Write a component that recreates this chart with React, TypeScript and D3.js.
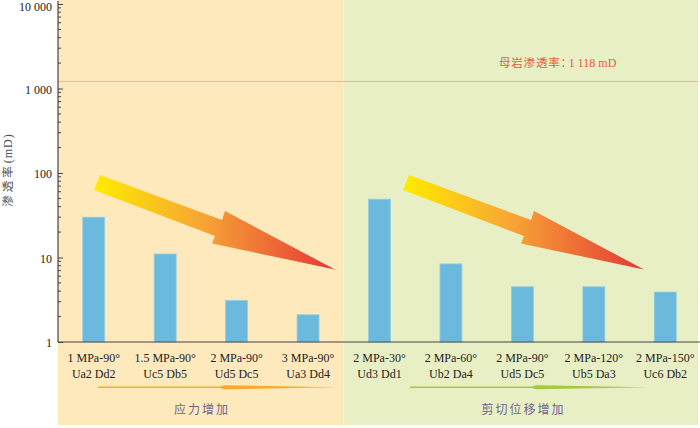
import React, { useEffect, useRef } from 'react';
import * as d3 from 'd3';

// chart data
const stressLabels = ['1 MPa-90°', '1.5 MPa-90°', '2 MPa-90°', '3 MPa-90°', '2 MPa-30°', '2 MPa-60°', '2 MPa-90°', '2 MPa-120°', '2 MPa-150°'];
const sampleLabels = ['Ua2 Dd2', 'Uc5 Db5', 'Ud5 Dc5', 'Ua3 Dd4', 'Ud3 Dd1', 'Ub2 Da4', 'Ud5 Dc5', 'Ub5 Da3', 'Uc6 Db2'];
const permeability = [30, 11, 3.1, 2.1, 49, 8.4, 4.5, 4.5, 3.9];
const groupNames = ['应力增加', '剪切位移增加'];
const groupSizes = [4, 5];
const yTicks = [1, 10, 100, 1000, 10000];
const matrixPermeability = 1118;

const App = () => {
  const ref = useRef<SVGSVGElement>(null);

  useEffect(() => {
    const svg = d3.select(ref.current);
    svg.selectAll('*').remove();

    const height = 428;
    const margin = { top: 4, right: 0, bottom: 86, left: 58 };
    const serif = '"Liberation Serif", "Times New Roman", serif';
    const cjk = '"Noto Sans CJK SC", sans-serif';

    const idx = permeability.map((_, i) => i);
    const x = d3.scaleBand<number>()
      .domain(idx)
      .range([margin.left, 701])
      .padding(0);

    const y = d3.scaleLog()
      .domain([1, 10000])
      .range([height - margin.bottom, margin.top]);

    const y0 = y(1);

    // background panels
    const split = x(groupSizes[0])!;
    const panels = [
      { x0: margin.left, x1: split, fill: '#FEE9BD' },
      { x0: split, x1: 698, fill: '#E9EFC5' },
    ];
    svg.append('g')
      .selectAll('rect')
      .data(panels)
      .enter().append('rect')
      .attr('x', d => d.x0)
      .attr('y', 0)
      .attr('width', d => d.x1 - d.x0)
      .attr('height', 425)
      .attr('fill', d => d.fill);

    // matrix permeability reference line
    svg.append('line')
      .attr('x1', margin.left)
      .attr('x2', 698)
      .attr('y1', y(matrixPermeability) - 3)
      .attr('y2', y(matrixPermeability) - 3)
      .attr('stroke', '#EDB496')
      .attr('stroke-width', 1);

    svg.append('text')
      .attr('x', 499)
      .attr('y', 67)
      .attr('fill', '#E85A40')
      .style('font-size', '12px')
      .style('font-family', serif)
      .call(t => {
        t.append('tspan').style('font-family', cjk).style('font-size', '11.5px').attr('letter-spacing', 0.8).text('母岩渗透率：');
        t.append('tspan').attr('dx', -4).text('1 118 mD');
      });

    // gradient arrows
    const defs = svg.append('defs');
    const grad = defs.append('linearGradient')
      .attr('id', 'arrowGrad')
      .attr('gradientUnits', 'objectBoundingBox')
      .attr('x1', 0).attr('x2', 1).attr('y1', 0).attr('y2', 0);
    grad.append('stop').attr('offset', '0%').attr('stop-color', '#FFEC00');
    grad.append('stop').attr('offset', '45%').attr('stop-color', '#F7A535');
    grad.append('stop').attr('offset', '100%').attr('stop-color', '#E43637');

    const arrowShape: [number, number][] = [
      [100, 175], [222, 220], [225, 211], [335, 269.5], [212, 243.5], [215, 236], [94, 190],
    ];
    const line = d3.line();
    [0, 309].forEach(dx => {
      svg.append('path')
        .attr('d', line(arrowShape.map(([px, py]) => [px + dx, py]))! + 'Z')
        .attr('fill', 'url(#arrowGrad)');
    });

    // bars
    const barW = 22;
    svg.append('g')
      .selectAll('rect')
      .data(permeability)
      .enter().append('rect')
      .attr('x', (d, i) => x(i)! + x.bandwidth() / 2 - barW / 2)
      .attr('y', d => y(d))
      .attr('width', barW)
      .attr('height', d => y0 - y(d))
      .attr('fill', '#6BB9DC')
      .attr('stroke', '#94CDE6')
      .attr('stroke-width', 0.8);

    // y axis
    const yAxis = svg.append('g')
      .attr('transform', `translate(${margin.left},0)`)
      .call(d3.axisLeft(y)
        .tickValues(yTicks)
        .tickSize(-5)
        .tickPadding(6)
        .tickFormat(d => d3.format(',')(d as number).replace(/,/g, ' ')));
    yAxis.select('.domain').remove();
    yAxis.selectAll('line').attr('stroke', '#444');
    yAxis.selectAll('text')
      .attr('fill', '#222')
      .attr('dy', d => (d === 10000 ? '0.55em' : '0.4em'))
      .style('font-size', '12px')
      .style('font-family', serif);

    const minor: number[] = [];
    for (let e = 0; e < 4; e++) {
      for (let m = 2; m <= 9; m++) minor.push(m * Math.pow(10, e));
    }
    svg.append('g')
      .selectAll('line')
      .data(minor)
      .enter().append('line')
      .attr('x1', margin.left)
      .attr('x2', margin.left + 3)
      .attr('y1', d => y(d))
      .attr('y2', d => y(d))
      .attr('stroke', '#444');

    svg.append('line')
      .attr('x1', margin.left).attr('x2', margin.left)
      .attr('y1', 1).attr('y2', y0)
      .attr('stroke', '#444').attr('stroke-width', 1.2);
    svg.append('line')
      .attr('x1', margin.left).attr('x2', 700)
      .attr('y1', y0).attr('y2', y0)
      .attr('stroke', '#444').attr('stroke-width', 1.2);

    svg.append('text')
      .attr('transform', 'translate(12,170) rotate(-90)')
      .attr('text-anchor', 'middle')
      .attr('fill', '#555')
      .style('font-size', '11.5px')
      .call(t => {
        t.append('tspan').style('font-family', cjk).attr('letter-spacing', 3).text('渗透率');
        t.append('tspan').style('font-family', serif).style('font-size', '12px').attr('letter-spacing', 1).text('(mD)');
      });

    // category labels
    const labels = svg.append('g')
      .style('font-family', serif)
      .style('font-size', '12px')
      .attr('fill', '#222')
      .attr('text-anchor', 'middle');
    labels.selectAll('text.l1')
      .data(stressLabels)
      .enter().append('text')
      .attr('class', 'l1')
      .attr('x', (d, i) => x(i)! + x.bandwidth() / 2)
      .attr('y', 362)
      .text(d => d);
    labels.selectAll('text.l2')
      .data(sampleLabels)
      .enter().append('text')
      .attr('class', 'l2')
      .attr('x', (d, i) => x(i)! + x.bandwidth() / 2)
      .attr('y', 378)
      .text(d => d);

    // group trend lines and names
    const groups = [
      { name: groupNames[0], x0: 98, xm: 220, x1: 337, color: '#F7AB2B', cx: (margin.left + split) / 2 + 1 },
      { name: groupNames[1], x0: 410, xm: 532, x1: 647, color: '#A8C640', cx: (split + 701) / 2 + 1 },
    ];
    groups.forEach(g => {
      const ly = 387.2;
      svg.append('path')
        .attr('d', line([
          [g.x0, ly - 0.7], [g.xm, ly - 0.7], [g.xm + 4, ly - 2], [g.x1, ly],
          [g.xm + 4, ly + 2], [g.xm, ly + 0.7], [g.x0, ly + 0.7],
        ])! + 'Z')
        .attr('fill', g.color);
      svg.append('text')
        .attr('x', g.cx)
        .attr('y', 414)
        .attr('text-anchor', 'middle')
        .attr('fill', '#6B668F')
        .attr('letter-spacing', 2)
        .style('font-family', cjk)
        .style('font-size', '12px')
        .text(g.name);
    });
  }, []);

  return (
    <svg ref={ref} width="700" height="428" style={{ position: 'absolute', left: 0, top: 0, background: '#fff' }}></svg>
  );
};

export default App;
